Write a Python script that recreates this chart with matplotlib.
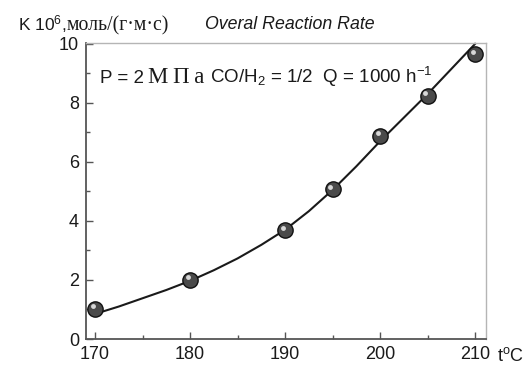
import matplotlib
matplotlib.use("Agg")
import matplotlib.pyplot as plt
from matplotlib.ticker import MultipleLocator
from matplotlib.transforms import offset_copy


# measured points
temps = [170, 180, 190, 195, 200, 205, 210]
rates = [1.02, 2.0, 3.69, 5.08, 6.88, 8.25, 9.65]

# fitted curve, every 2.5 degrees
curve_t = [170, 172.5, 175, 177.5, 180, 182.5, 185, 187.5, 190,
           192.5, 195, 197.5, 200, 202.5, 205, 207.5, 210]
curve_k = [0.85, 1.1, 1.38, 1.66, 1.97, 2.33, 2.73, 3.19, 3.70,
           4.33, 5.05, 5.85, 6.70, 7.50, 8.30, 9.15, 10.0]

x_ticks = [170, 180, 190, 200, 210]
y_ticks = [0, 2, 4, 6, 8, 10]

SANS = "Liberation Sans"
SERIF = "Liberation Serif"
INK = "#1a1a1a"

plt.rcParams["font.family"] = [SANS, "DejaVu Sans"]
plt.rcParams["mathtext.fontset"] = "custom"
plt.rcParams["mathtext.rm"] = SANS
plt.rcParams["mathtext.it"] = SANS + ":italic"

W, H = 530, 365
fig = plt.figure(figsize=(W / 100, H / 100), dpi=100)
fig.patch.set_facecolor("white")


def px(x, y):
    return x / W, 1 - y / H


left, right, top, bottom = 86, 486, 43, 339
ax = fig.add_axes([left / W, 1 - bottom / H, (right - left) / W, (bottom - top) / H])

ax.set_xlim(169.05, 211.15)
ax.set_ylim(0, 10.03)

ax.plot(curve_t, curve_k, color=INK, lw=1.5, zorder=2, clip_on=False)
ax.plot(temps, rates, "o", ms=11, mfc="#4a4a4a", mec="#111111", mew=1.0, zorder=3)
hl = offset_copy(ax.transData, fig=fig, x=-1.8, y=1.8, units="points")
ax.plot(temps, rates, "o", ms=3.5, mfc="#d8d8d8", mec="none", transform=hl, zorder=4)

ax.set_xticks(x_ticks)
ax.set_yticks(y_ticks)
ax.xaxis.set_minor_locator(MultipleLocator(5))
ax.yaxis.set_minor_locator(MultipleLocator(1))
ax.tick_params(which="both", direction="in", color="#555555", top=False, right=False)
ax.tick_params(which="major", length=5, width=1, labelsize=13, labelcolor=INK, pad=5)
ax.tick_params(which="minor", length=3, width=1)

for side in ("left", "bottom"):
    ax.spines[side].set_color("#555555")
    ax.spines[side].set_linewidth(1.3)
for side in ("top", "right"):
    ax.spines[side].set_color("#b5b5b5")
    ax.spines[side].set_linewidth(1.0)

# y label pieces along the top
fig.text(*px(18, 30), "K 10$^6$,", fontsize=12.5, color=INK, va="baseline")
fig.text(*px(67, 30), "моль/(г·м·с)", fontsize=14.2, family=SERIF, color=INK, va="baseline")
fig.text(*px(205, 29), "Overal Reaction Rate", fontsize=12.8, style="italic",
         color=INK, va="baseline")

# conditions
fig.text(*px(100, 83), "P = 2", fontsize=13.5, color=INK, va="baseline")
fig.text(*px(148, 83), "М\u2009П\u2009а", fontsize=16.5, family=[SERIF, "DejaVu Serif"],
         color=INK, va="baseline")
fig.text(*px(210, 83), "CO/H$_2$ = 1/2  Q = 1000 h$^{-1}$", fontsize=13.5,
         color=INK, va="baseline")

# x label next to last tick label
fig.text(*px(497, 361), r"t$^\mathrm{o}$C", fontsize=13, color=INK, va="baseline")

fig.savefig("out.png", dpi=100, facecolor="white")
